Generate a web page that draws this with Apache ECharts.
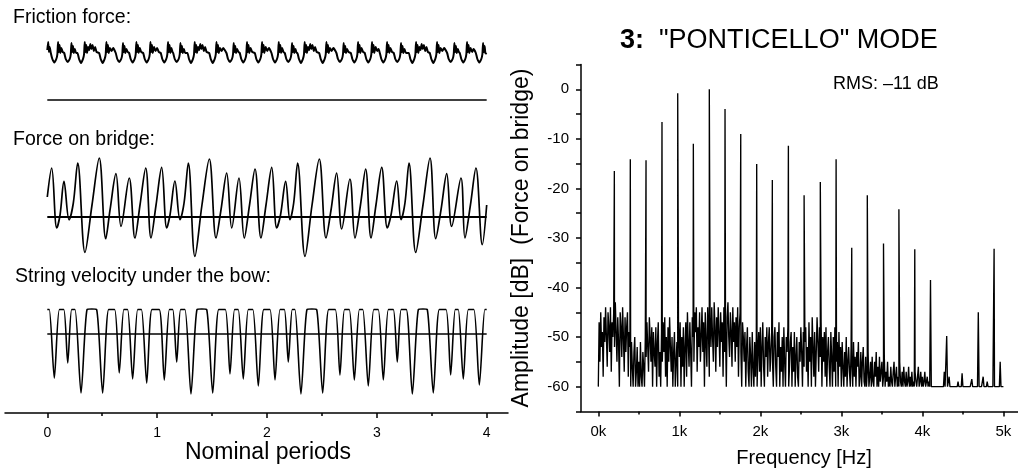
<!DOCTYPE html>
<html><head><meta charset="utf-8">
<script src="https://cdn.jsdelivr.net/npm/echarts@6/dist/echarts.min.js"></script>
<style>html,body{margin:0;padding:0;background:#fff}#c{width:1018px;height:473px}</style>
</head><body><div id="c"></div>
<script>
// ---------- DATA ----------
const periodTicks = [0, 1, 2, 3, 4];
const periodMinorTicks = [0.5, 1.5, 2.5, 3.5];
const freqTicks = [0, 1, 2, 3, 4, 5];           // kHz
const freqMinorTicks = [0.5, 1.5, 2.5, 3.5, 4.5];

// time [nominal periods], value [arb. units]
const frictionForce = [
[0,50],[0.008,58],[0.015,48],[0.022,53],[0.032,47],
[0.046,41],[0.064,37.5],[0.082,41],[0.092,46],[0.098,58],[0.105,48],[0.112,55],[0.119,47],[0.128,52],[0.140,48],[0.154,47],
[0.168,41],[0.186,38],[0.204,41],[0.214,46],[0.220,57],[0.227,48],[0.234,54],[0.241,47],[0.250,51],[0.262,47],[0.275,47],
[0.289,41],[0.307,37],[0.325,41],[0.335,46],[0.341,58],[0.348,48],[0.355,55],[0.362,47],[0.372,53],[0.382,50],[0.392,56],[0.402,51],[0.412,55],[0.424,49],[0.436,53],[0.448,48],[0.472,47],
[0.486,41],[0.504,37],[0.522,41],[0.532,46],[0.538,58],[0.545,48],[0.552,55],[0.559,47],[0.570,52],[0.585,49],[0.600,52],[0.623,47],
[0.637,41],[0.655,38],[0.673,41],[0.683,46],[0.689,57],[0.696,48],[0.703,54],[0.710,47],[0.720,51],[0.732,48],[0.745,47],
[0.759,41],[0.777,37.5],[0.795,41],[0.805,46],[0.811,58],[0.818,48],[0.825,55],[0.832,47],[0.842,52],[0.855,48],[0.873,47],
[0.887,41],[0.905,37.5],[0.923,41],[0.933,46],[0.939,58],[0.946,48],[0.953,55],[0.960,47],[0.972,53],[0.985,49],[1.000,52],[1.015,48],[1.033,47],
[1.047,41],[1.065,37.5],[1.083,41],[1.093,46],[1.099,58],[1.106,48],[1.113,55],[1.120,47],[1.130,52],[1.140,48],[1.146,47],
[1.160,41],[1.178,38],[1.196,41],[1.206,46],[1.212,57],[1.219,48],[1.226,54],[1.233,47],[1.243,51],[1.255,47],[1.276,47],
[1.290,41],[1.308,37],[1.326,41],[1.336,46],[1.342,58],[1.349,48],[1.356,55],[1.363,47],[1.373,53],[1.383,50],[1.393,56],[1.403,51],[1.413,55],[1.425,49],[1.437,53],[1.450,48],[1.474,47],
[1.488,41],[1.506,37],[1.524,41],[1.534,46],[1.540,58],[1.547,48],[1.554,55],[1.561,47],[1.572,52],[1.587,49],[1.602,52],[1.631,47],
[1.645,41],[1.663,38],[1.681,41],[1.691,46],[1.697,57],[1.704,48],[1.711,54],[1.718,47],[1.728,51],[1.740,48],[1.752,47],
[1.766,41],[1.784,37.5],[1.802,41],[1.812,46],[1.818,58],[1.825,48],[1.832,55],[1.839,47],[1.850,52],[1.866,48],[1.889,47],
[1.903,41],[1.921,37.5],[1.939,41],[1.949,46],[1.955,58],[1.962,48],[1.969,55],[1.976,47],[1.988,53],[2.002,49],[2.018,52],[2.041,47],
[2.055,41],[2.073,37.5],[2.091,41],[2.101,46],[2.107,58],[2.114,48],[2.121,55],[2.128,47],[2.138,52],[2.150,48],[2.162,47],
[2.176,41],[2.194,38],[2.212,41],[2.222,46],[2.228,57],[2.235,48],[2.242,54],[2.249,47],[2.259,51],[2.270,47],[2.277,47],
[2.291,41],[2.309,37],[2.327,41],[2.337,46],[2.343,58],[2.350,48],[2.357,55],[2.364,47],[2.374,53],[2.384,50],[2.394,56],[2.404,51],[2.414,55],[2.426,49],[2.438,53],[2.452,48],[2.475,47],
[2.489,41],[2.507,37],[2.525,41],[2.535,46],[2.541,58],[2.548,48],[2.555,55],[2.562,47],[2.573,52],[2.588,49],[2.604,52],[2.632,47],
[2.646,41],[2.664,38],[2.682,41],[2.692,46],[2.698,57],[2.705,48],[2.712,54],[2.719,47],[2.729,51],[2.742,48],[2.763,47],
[2.777,41],[2.795,37.5],[2.813,41],[2.823,46],[2.829,58],[2.836,48],[2.843,55],[2.850,47],[2.861,52],[2.875,48],[2.890,47],
[2.904,41],[2.922,37.5],[2.940,41],[2.950,46],[2.956,58],[2.963,48],[2.970,55],[2.977,47],[2.989,53],[3.003,49],[3.016,51],[3.027,47],
[3.041,41],[3.059,37.5],[3.077,41],[3.087,46],[3.093,58],[3.100,48],[3.107,55],[3.114,47],[3.124,52],[3.138,48],[3.154,47],
[3.168,41],[3.186,38],[3.204,41],[3.214,46],[3.220,57],[3.227,48],[3.234,54],[3.241,47],[3.251,51],[3.265,47],[3.291,47],
[3.305,41],[3.323,37],[3.341,41],[3.351,46],[3.357,58],[3.364,48],[3.371,55],[3.378,47],[3.388,53],[3.398,50],[3.408,56],[3.418,51],[3.428,55],[3.440,49],[3.452,53],[3.465,48],[3.482,47],
[3.496,41],[3.514,37],[3.532,41],[3.542,46],[3.548,58],[3.555,48],[3.562,55],[3.569,47],[3.580,52],[3.596,49],[3.612,52],[3.640,47],
[3.654,41],[3.672,38],[3.690,41],[3.700,46],[3.706,57],[3.713,48],[3.720,54],[3.727,47],[3.737,51],[3.747,48],[3.755,47],
[3.769,41],[3.787,37.5],[3.805,41],[3.815,46],[3.821,58],[3.828,48],[3.835,55],[3.842,47],[3.853,52],[3.868,48],[3.880,51],[3.901,47],
[3.915,41],[3.933,37.5],[3.951,41],[3.961,46],[3.967,57],[3.974,48],[3.981,54],[3.988,47],[4.0,46]
];

const bridgeForce = [
[0,20],[0.040,49],[0.086,-11],[0.116,2],[0.152,35.6],[0.198,-2.7],[0.237,14],[0.277,54],[0.343,-35.4],[0.407,12],[0.473,59],
[0.532,-21.7],[0.571,7],[0.625,43.3],[0.671,-9.4],[0.746,39],[0.798,-21],[0.844,12],[0.896,49],[0.944,-21],[0.990,12],
[1.041,49.6],[1.087,-11],[1.117,2],[1.162,36],[1.208,-2.7],[1.245,14],[1.284,54],[1.344,-39.4],[1.408,12],[1.475,58],
[1.536,-21],[1.581,7],[1.633,44],[1.679,-11],[1.745,39],[1.793,-21],[1.841,12],[1.891,48],[1.945,-21],[1.991,12],
[2.043,49.6],[2.088,-11],[2.123,2],[2.170,35.6],[2.209,-2.7],[2.243,14],[2.279,54],[2.346,-39.4],[2.410,12],[2.476,58],
[2.537,-21],[2.583,7],[2.634,44],[2.680,-12],[2.755,38],[2.801,-21],[2.851,12],[2.898,48],[2.947,-21],[2.992,12],
[3.044,49.6],[3.095,-11],[3.129,2],[3.181,36],[3.220,-2.7],[3.256,14],[3.293,54],[3.354,-35.4],[3.420,12],[3.484,59],
[3.536,-21.7],[3.584,7],[3.636,43.3],[3.681,-9.4],[3.766,39],[3.802,-21],[3.852,12],[3.902,49],[3.960,-27.7],[4.0,12]
];

const stringVelocity = [
[0,24.5],
[0.018,24.5],[0.064,-44],[0.110,24.5],
[0.150,24.5],[0.186,-29],[0.222,24.5],
[0.252,24.5],[0.307,-59],[0.362,24.5],[0.405,25],
[0.449,24.5],[0.504,-59],[0.559,24.5],
[0.613,24.5],[0.655,-39],[0.697,24.5],
[0.731,24.5],[0.777,-45],[0.823,24.5],
[0.857,24.5],[0.905,-49],[0.953,24.5],
[1.019,24.5],[1.065,-46],[1.111,24.5],
[1.142,24.5],[1.178,-28],[1.214,24.5],
[1.253,24.5],[1.308,-60],[1.363,24.5],[1.407,25],
[1.451,24.5],[1.506,-59],[1.561,24.5],
[1.621,24.5],[1.663,-40],[1.705,24.5],
[1.738,24.5],[1.784,-45],[1.830,24.5],
[1.871,24.5],[1.921,-52],[1.971,24.5],
[2.027,24.5],[2.073,-46],[2.119,24.5],
[2.158,24.5],[2.194,-28],[2.230,24.5],
[2.254,24.5],[2.309,-60],[2.364,24.5],[2.408,25],
[2.452,24.5],[2.507,-59],[2.562,24.5],
[2.622,24.5],[2.664,-41],[2.706,24.5],
[2.749,24.5],[2.795,-46],[2.841,24.5],
[2.872,24.5],[2.922,-52],[2.972,24.5],
[3.013,24.5],[3.059,-46],[3.105,24.5],
[3.150,24.5],[3.186,-28],[3.222,24.5],
[3.268,24.5],[3.323,-60],[3.378,24.5],[3.420,25],
[3.459,24.5],[3.514,-59],[3.569,24.5],
[3.630,24.5],[3.672,-41],[3.714,24.5],
[3.741,24.5],[3.787,-45],[3.833,24.5],
[3.883,24.5],[3.933,-51],[3.983,24.5],[4.0,24.5]
];

// spectrum: noise floor sampled every noiseStep kHz from 0 kHz
const noiseStep = 0.01;
const noiseDb = [
-60,-47,-55,-45,-52,-49,-58,-46,-51,-44,
-50,-56,-45,-48,-53,-44,-57,-47,-50,-45,
-52,-43,-49,-55,-46,-51,-60,-45,-48,-54,
-44,-50,-57,-46,-53,-48,-45,-58,-49,-52,
-60,-51,-56,-60,-53,-50,-60,-57,-52,-60,
-55,-60,-51,-58,-60,-53,-56,-60,-50,-54,
-47,-52,-57,-46,-50,-55,-48,-60,-49,-53,
-56,-48,-60,-51,-47,-58,-53,-60,-49,-55,
-47,-53,-46,-58,-50,-60,-48,-55,-46,-52,
-57,-50,-60,-53,-49,-60,-55,-51,-60,-48,
-54,-47,-60,-50,-56,-48,-60,-52,-47,-58,
-45,-51,-56,-47,-53,-60,-46,-50,-55,-45,
-49,-44,-57,-48,-52,-45,-55,-50,-44,-53,
-47,-60,-45,-51,-56,-44,-49,-58,-46,-52,
-44,-50,-55,-43,-48,-57,-46,-52,-44,-49,
-56,-45,-51,-47,-58,-44,-53,-48,-60,-46,
-43,-50,-54,-45,-49,-56,-44,-51,-47,-55,
-46,-52,-44,-58,-48,-45,-53,-60,-47,-50,
-55,-49,-60,-52,-48,-57,-60,-50,-54,-60,
-49,-56,-60,-51,-58,-50,-60,-53,-49,-57,
-48,-60,-52,-47,-56,-60,-50,-54,-48,-58,
-51,-48,-57,-53,-49,-55,-60,-50,-48,-56,
-60,-49,-54,-47,-60,-52,-57,-50,-60,-48,
-55,-60,-50,-53,-48,-60,-56,-51,-49,-60,
-52,-57,-49,-60,-54,-50,-58,-60,-51,-55,
-48,-53,-60,-49,-56,-51,-48,-57,-52,-60,
-47,-55,-50,-60,-46,-52,-58,-49,-60,-53,
-46,-51,-57,-48,-54,-47,-60,-50,-55,-49,
-58,-48,-60,-53,-50,-56,-60,-49,-54,-60,
-50,-57,-48,-60,-55,-51,-60,-49,-56,-52,
-60,-51,-56,-60,-53,-58,-50,-60,-55,-52,
-57,-60,-52,-55,-60,-51,-58,-54,-60,-53,
-56,-51,-60,-58,-53,-60,-55,-52,-59,-60,
-54,-60,-57,-53,-60,-58,-55,-60,-54,-59,
-60,-55,-58,-53,-60,-56,-60,-54,-59,-57,
-55,-60,-58,-54,-60,-57,-59,-55,-60,-58,
-60,-56,-59,-60,-57,-55,-60,-58,-56,-60,
-58,-60,-55,-59,-60,-57,-60,-56,-59,-60,
-57,-60,-59,-56,-60,-58,-60,-57,-60,-59,
-60,-57,-59,-60,-58,-56,-60,-59,-57,-60,
-58,-60,-59,-57,-60,-60,-58,-60,-59,-60,
-60,-60,-60,-60,-60,-60,-60,-60,-60,-60,
-60,-60,-60,-60,-60,-60,-60,-57,-60,-60,
-60,-60,-60,-58,-60,-60,-60,-60,-60,-60,
-60,-60,-60,-60,-59,-60,-60,-60,-60,-60,
-60,-60,-60,-60,-60,-60,-60,-60,-60,-60,
-60,-58.5,-60,-60,-60,-60,-60,-60,-60,-60,
-60,-60,-60,-60,-60,-58,-60,-60,-60,-60,
-59,-60,-60,-60,-60,-60,-60,-60,-60,-60,
-60,-60,-60,-60,-60,-60,-55,-60,-60,-60,
-60
];
const harmonicFreq = [0.198,0.395,0.589,0.786,0.980,1.173,1.370,1.564,1.758,1.955,2.148,2.346,2.540,2.740,2.935,3.128,3.320,3.520,3.710,3.906,4.100,4.300,4.490,4.690,4.885];
const harmonicDb   = [-16.5,-14.1,-14.3,-6.6,-0.8,-11.0,0,-4.0,-9.0,-15.1,-18.3,-11.4,-21.4,-18.7,-14.1,-32.0,-21.4,-31.1,-24.2,-32.3,-38.5,-49.8,-57.3,-45.0,-32.2];

// ---------- BUILD ----------
const spectrum = noiseDb.map((v, i) => [+(i * noiseStep).toFixed(3), v])
  .concat(harmonicFreq.map((f, i) => [f, harmonicDb[i]]))
  .sort((a, b) => a[0] - b[0]);

const FONT = 'Liberation Sans, Arial, Helvetica, sans-serif';
const BLACK = '#000';
const L_LEFT = 5, L_WIDTH = 503, T_MIN = -0.385, T_MAX = 4.194;

function hiddenX(grid) {
  return { type: 'value', gridIndex: grid, min: T_MIN, max: T_MAX, show: false };
}
function hiddenY(grid, min, max) {
  return { type: 'value', gridIndex: grid, min: min, max: max, show: false };
}
const zeroLine = [[periodTicks[0], 0], [periodTicks[periodTicks.length - 1], 0]];
function lineSeries(data, xi, yi, extra) {
  return Object.assign({
    type: 'line', data: data, xAxisIndex: xi, yAxisIndex: yi, symbol: 'none',
    lineStyle: { color: BLACK, width: 1.5 }, silent: true, animation: false
  }, extra || {});
}

const chart = echarts.init(document.getElementById('c'), null, { renderer: 'canvas' });
chart.setOption({
  animation: false,
  backgroundColor: '#fff',
  grid: [
    { left: L_LEFT, width: L_WIDTH, top: 35, height: 70 },
    { left: L_LEFT, width: L_WIDTH, top: 155, height: 105 },
    { left: L_LEFT, width: L_WIDTH, top: 300, height: 113 },
    { left: 581, right: 0, top: 64.5, height: 346.9 }
  ],
  xAxis: [
    hiddenX(0), hiddenX(1),
    { type: 'value', gridIndex: 2, min: T_MIN, max: T_MAX,
      axisLine: { show: true, onZero: false, lineStyle: { color: BLACK, width: 1.5 } },
      axisTick: { show: true, customValues: periodTicks, length: 5, lineStyle: { color: BLACK, width: 1.5 } },
      axisLabel: { show: true, customValues: periodTicks, margin: 13, color: BLACK, fontSize: 14, fontFamily: FONT },
      splitLine: { show: false } },
    { type: 'value', gridIndex: 2, min: T_MIN, max: T_MAX, position: 'bottom',
      axisLine: { show: false, onZero: false },
      axisTick: { show: true, customValues: periodMinorTicks, length: 3, lineStyle: { color: BLACK, width: 1.5 } },
      axisLabel: { show: false }, splitLine: { show: false } },
    { type: 'value', gridIndex: 3, min: -0.2136, max: 5.18,
      axisLine: { show: true, onZero: false, lineStyle: { color: BLACK, width: 1.5 } },
      axisTick: { show: true, customValues: freqTicks, length: 5, lineStyle: { color: BLACK, width: 1.5 } },
      axisLabel: { show: true, customValues: freqTicks, margin: 13, color: BLACK, fontSize: 15, fontFamily: FONT,
        formatter: v => v + 'k' },
      splitLine: { show: false } },
    { type: 'value', gridIndex: 3, min: -0.2136, max: 5.18, position: 'bottom',
      axisLine: { show: false, onZero: false },
      axisTick: { show: true, customValues: freqMinorTicks, length: 3, lineStyle: { color: BLACK, width: 1.5 } },
      axisLabel: { show: false }, splitLine: { show: false } }
  ],
  yAxis: [
    hiddenY(0, -5, 65), hiddenY(1, -43, 62), hiddenY(2, -79, 34),
    { type: 'value', gridIndex: 3, min: -65, max: 5, interval: 5,
      axisLine: { show: true, onZero: false, lineStyle: { color: BLACK, width: 1.5 } },
      axisTick: { show: true, length: 5, lineStyle: { color: BLACK, width: 1.5 } },
      axisLabel: { show: true, margin: 12, color: BLACK, fontSize: 15, fontFamily: FONT,
        formatter: v => (v % 10 === 0 && v <= 0 && v >= -60) ? String(v) : '' },
      splitLine: { show: false } }
  ],
  series: [
    lineSeries(frictionForce, 0, 0, { smooth: 0.15, lineStyle: { color: BLACK, width: 2 } }),
    lineSeries(zeroLine, 0, 0),
    lineSeries(bridgeForce, 1, 1, { smooth: 0.35, lineStyle: { color: BLACK, width: 1.7 } }),
    lineSeries(zeroLine, 1, 1, { lineStyle: { color: BLACK, width: 2 } }),
    lineSeries(stringVelocity, 2, 2, { smooth: 0.25, lineStyle: { color: BLACK, width: 1.6 } }),
    lineSeries(zeroLine, 2, 2, { lineStyle: { color: BLACK, width: 1.3 } }),
    lineSeries(spectrum, 4, 3, { lineStyle: { color: BLACK, width: 1.35 } })
  ],
  graphic: [
    { type: 'text', x: 13, y: 18, style: { text: 'Friction force:', font: '19.5px ' + FONT, fill: BLACK, verticalAlign: 'middle', align: 'left' } },
    { type: 'text', x: 13, y: 140, style: { text: 'Force on bridge:', font: '19.5px ' + FONT, fill: BLACK, verticalAlign: 'middle', align: 'left' } },
    { type: 'text', x: 15, y: 277, style: { text: 'String velocity under the bow:', font: '19.5px ' + FONT, fill: BLACK, verticalAlign: 'middle', align: 'left' } },
    { type: 'text', x: 268, y: 453, style: { text: 'Nominal periods', font: '23px ' + FONT, fill: BLACK, verticalAlign: 'middle', align: 'center' } },
    { type: 'text', x: 804, y: 458, style: { text: 'Frequency [Hz]', font: '20px ' + FONT, fill: BLACK, verticalAlign: 'middle', align: 'center' } },
    { type: 'text', x: 522, y: 238, rotation: Math.PI / 2,
      style: { text: 'Amplitude [dB]  (Force on bridge)', font: '23px ' + FONT, fill: BLACK, verticalAlign: 'middle', align: 'center' } },
    { type: 'text', x: 833, y: 84, style: { text: 'RMS: \u201311 dB', font: '18px ' + FONT, fill: BLACK, verticalAlign: 'middle', align: 'left' } },
    { type: 'text', x: 620, y: 41, style: {
        text: '{b|3:}  {n|"PONTICELLO" MODE}', font: '27px ' + FONT, fill: BLACK, verticalAlign: 'middle', align: 'left',
        rich: { b: { fontWeight: 'bold', fontSize: 27, fontFamily: FONT, fill: BLACK }, n: { fontSize: 27, fontFamily: FONT, fill: BLACK } } } }
  ]
});
</script>
</body></html>
